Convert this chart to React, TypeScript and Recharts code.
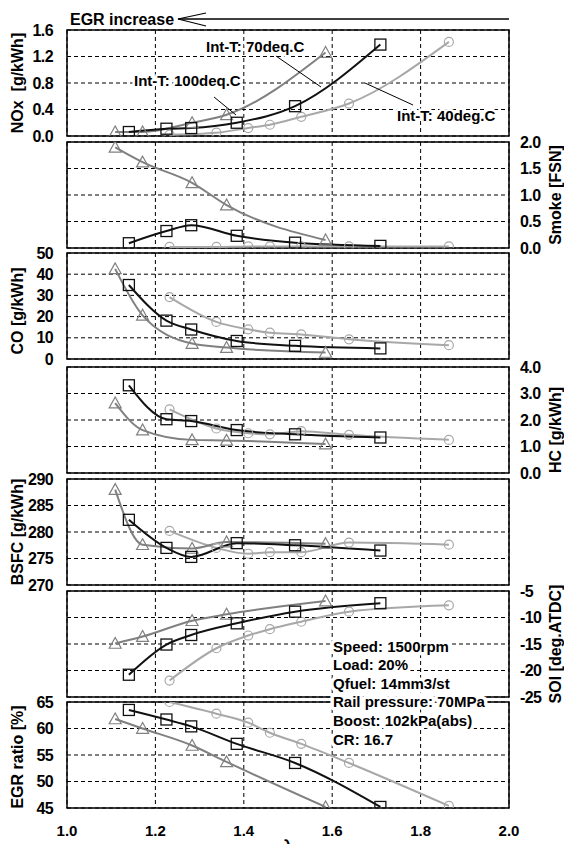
import React from 'react';
import { LineChart, Line, XAxis, YAxis, CartesianGrid, ReferenceArea } from 'recharts';

// lambda values for each intake temperature
const lambda100 = [1.109, 1.171, 1.283, 1.361, 1.585];
const lambda70 = [1.14, 1.225, 1.281, 1.384, 1.516, 1.709];
const lambda40 = [1.232, 1.338, 1.41, 1.459, 1.53, 1.638, 1.864];

const nox100 = [0.06, 0.06, 0.2, 0.32, 1.26];
const nox70 = [0.06, 0.11, 0.12, 0.2, 0.45, 1.38];
const nox40 = [0.02, 0.05, 0.12, 0.17, 0.29, 0.49, 1.42];

const smoke100 = [1.9, 1.62, 1.23, 0.81, 0.15];
const smoke70 = [0.09, 0.32, 0.43, 0.23, 0.1, 0.04];
const smoke40 = [0.02, 0.02, 0.03, 0.03, 0.03, 0.03, 0.03];

const co100 = [42.5, 20.6, 7.3, 5.4, 3.1];
const co70 = [34.9, 18.1, 13.9, 8.5, 6.2, 5.0];
const co40 = [29.2, 17.5, 14.0, 12.4, 11.6, 9.3, 6.5];

const hc100 = [2.64, 1.62, 1.25, 1.23, 1.09];
const hc70 = [3.31, 2.03, 1.96, 1.62, 1.46, 1.34];
const hc40 = [2.4, 1.68, 1.5, 1.46, 1.58, 1.44, 1.25];

const bsfc100 = [288, 277.6, 276.9, 278.1, 277.8];
const bsfc70 = [282.3, 277, 275.3, 277.9, 277.5, 276.5];
const bsfc40 = [280.2, 277, 275.9, 276.2, 276.2, 278, 277.6];

const soi100 = [-14.9, -13.6, -10.6, -9.4, -6.9];
const soi70 = [-20.8, -15.1, -13.3, -11.1, -8.9, -7.3];
const soi40 = [-21.9, -15.8, -13.4, -12.2, -10.8, -8.9, -7.7];

const egr100 = [61.8, 60, 56.8, 53.7, 45.2];
const egr70 = [63.5, 61.7, 60.4, 57.1, 53.5, 45.2];
const egr40 = [65, 62.8, 61.1, 59.2, 57.1, 53.5, 45.4];

const xTicks = [1.0, 1.2, 1.4, 1.6, 1.8, 2.0];

const seriesLabels = ['Int-T: 70deq.C', 'Int-T: 100deq.C', 'Int-T: 40deg.C'];
const conditions = ['Speed: 1500rpm', 'Load: 20%', 'Qfuel: 14mm3/st', 'Rail pressure: 70MPa', 'Boost: 102kPa(abs)', 'CR: 16.7'];

const C100 = '#808080';
const C70 = '#111111';
const C40 = '#a8a8a8';

const FONT = "'Liberation Sans', Arial, sans-serif";
const FONT_NARROW = "'Liberation Sans Narrow', 'Arial Narrow', 'Liberation Sans', sans-serif";

const PLOT_H = 106;
const PAD = 15;

const rows = (xs: number[], ys: number[]) => xs.map((x, i) => ({ x, y: ys[i] }));

const TriangleDot = (p: any) => {
  const { cx, cy, index } = p;
  if (cx == null || cy == null) return <g key={index} />;
  const s = 6;
  return (
    <polygon
      key={index}
      points={`${cx},${cy - s} ${cx - s},${cy + s * 0.8} ${cx + s},${cy + s * 0.8}`}
      fill="none"
      stroke={C100}
      strokeWidth={1.2}
    />
  );
};

const SquareDot = (p: any) => {
  const { cx, cy, index } = p;
  if (cx == null || cy == null) return <g key={index} />;
  return <rect key={index} x={cx - 5.5} y={cy - 5.5} width={11} height={11} fill="none" stroke={C70} strokeWidth={1.3} />;
};

const CircleDot = (p: any) => {
  const { cx, cy, index } = p;
  if (cx == null || cy == null) return <g key={index} />;
  return <circle key={index} cx={cx} cy={cy} r={4.5} fill="none" stroke={C40} strokeWidth={1.2} />;
};

interface PanelProps {
  top: number;
  domain: [number, number];
  ticks: number[];
  fmt: (v: number) => string;
  side: 'left' | 'right';
  v100: number[];
  v70: number[];
  v40: number[];
  showX?: boolean;
}

function Panel({ top, domain, ticks, fmt, side, v100, v70, v40, showX }: PanelProps) {
  const xH = showX ? 40 : 0;
  const h = PLOT_H + PAD * 2 + xH;
  const tickStyle = { fontFamily: FONT_NARROW, fontWeight: 'bold', fontSize: 16, fill: '#000', letterSpacing: -0.6 };
  return (
    <div style={{ position: 'absolute', left: 0, top: top - PAD }}>
      <LineChart
        width={564}
        height={h}
        margin={{ top: PAD, bottom: PAD, left: side === 'left' ? 0 : 67, right: side === 'right' ? 0 : 55 }}
      >
        <CartesianGrid stroke="#000" strokeDasharray="4 3" />
        <XAxis
          type="number"
          dataKey="x"
          domain={[1, 2]}
          ticks={xTicks}
          interval={0}
          hide={!showX}
          height={xH}
          axisLine={false}
          tickLine={false}
          tickSize={0}
          tickMargin={17}
          tickFormatter={(v: number) => v.toFixed(1)}
          tick={{ fontFamily: FONT, fontWeight: 'bold', fontSize: 15, fill: '#000' }}
        />
        <YAxis
          type="number"
          domain={domain}
          ticks={ticks}
          interval={0}
          orientation={side}
          width={side === 'left' ? 67 : 55}
          axisLine={false}
          tickLine={false}
          tickSize={0}
          tickMargin={side === 'left' ? 14 : 11}
          tickFormatter={fmt}
          tick={tickStyle}
          allowDataOverflow
        />
        <ReferenceArea x1={1} x2={2} y1={domain[0]} y2={domain[1]} fill="none" stroke="#000" strokeWidth={1.5} />
        <Line data={rows(lambda40, v40)} dataKey="y" type="monotone" stroke={C40} strokeWidth={2} dot={CircleDot} isAnimationActive={false} />
        <Line data={rows(lambda100, v100)} dataKey="y" type="monotone" stroke={C100} strokeWidth={2} dot={TriangleDot} isAnimationActive={false} />
        <Line data={rows(lambda70, v70)} dataKey="y" type="monotone" stroke={C70} strokeWidth={2} dot={SquareDot} isAnimationActive={false} />
      </LineChart>
    </div>
  );
}

const f1 = (v: number) => v.toFixed(1);
const f0 = (v: number) => `${v}`;

const tops = [30, 142, 253, 367, 479, 591, 702];

export default function App() {
  const halo = { paintOrder: 'stroke' as const, stroke: '#fff', strokeWidth: 5, strokeLinejoin: 'round' as const };
  const txt = { fontFamily: FONT, fontWeight: 'bold' as const, fontSize: 15, fill: '#000' };
  const mid = (i: number) => tops[i] + PLOT_H / 2;
  return (
    <div style={{ position: 'absolute', left: 0, top: 0, width: 564, height: 844, background: '#fff', overflow: 'hidden' }}>
      <Panel top={tops[0]} domain={[0, 1.6]} ticks={[0, 0.4, 0.8, 1.2, 1.6]} fmt={f1} side="left" v100={nox100} v70={nox70} v40={nox40} />
      <Panel top={tops[1]} domain={[0, 2]} ticks={[0, 0.5, 1, 1.5, 2]} fmt={f1} side="right" v100={smoke100} v70={smoke70} v40={smoke40} />
      <Panel top={tops[2]} domain={[0, 50]} ticks={[0, 10, 20, 30, 40, 50]} fmt={f0} side="left" v100={co100} v70={co70} v40={co40} />
      <Panel top={tops[3]} domain={[0, 4]} ticks={[0, 1, 2, 3, 4]} fmt={f1} side="right" v100={hc100} v70={hc70} v40={hc40} />
      <Panel top={tops[4]} domain={[270, 290]} ticks={[270, 275, 280, 285, 290]} fmt={f0} side="left" v100={bsfc100} v70={bsfc70} v40={bsfc40} />
      <Panel top={tops[5]} domain={[-25, -5]} ticks={[-25, -20, -15, -10, -5]} fmt={f0} side="right" v100={soi100} v70={soi70} v40={soi40} />
      <Panel top={tops[6]} domain={[45, 65]} ticks={[45, 50, 55, 60, 65]} fmt={f0} side="left" v100={egr100} v70={egr70} v40={egr40} showX />

      <svg width={564} height={844} style={{ position: 'absolute', left: 0, top: 0, pointerEvents: 'none' }}>
        {/* EGR arrow */}
        <text x={70} y={19} dominantBaseline="central" style={{ ...txt, fontSize: 16 }}>EGR increase</text>
        <line x1={178} y1={19} x2={509} y2={19} stroke="#000" strokeWidth={1.5} />
        <polyline points="206,13 178,19 206,26" fill="none" stroke="#000" strokeWidth={1.2} />

        {/* series labels */}
        <line x1={276} y1={56} x2={321} y2={87} stroke="#000" strokeWidth={1} />
        <line x1={214} y1={97} x2={236} y2={115} stroke="#000" strokeWidth={1} />
        <line x1={413} y1={105} x2={365} y2={83} stroke="#000" strokeWidth={1} />
        <text x={206} y={46} dominantBaseline="central" style={{ ...txt, ...halo }}>{seriesLabels[0]}</text>
        <text x={134} y={80} dominantBaseline="central" style={{ ...txt, ...halo }}>{seriesLabels[1]}</text>
        <text x={397} y={115} dominantBaseline="central" style={{ ...txt, ...halo }}>{seriesLabels[2]}</text>

        {/* test conditions */}
        {conditions.map((c, i) => (
          <text key={c} x={333} y={646 + i * 18.6} dominantBaseline="central" style={{ ...txt, ...halo, strokeWidth: 7 }}>{c}</text>
        ))}

        {/* axis titles */}
        {[
          { i: 0, x: 17, t: 'NOx  [g/kWh]', dy: 0 },
          { i: 2, x: 17, t: 'CO [g/kWh]', dy: 5 },
          { i: 4, x: 17, t: 'BSFC [g/kWh]', dy: 0 },
          { i: 6, x: 17, t: 'EGR ratio [%]', dy: 2 },
          { i: 1, x: 555, t: 'Smoke [FSN]', dy: 0 },
          { i: 3, x: 555, t: 'HC [g/kWh]', dy: 10 },
          { i: 5, x: 555, t: 'SOI [deg.ATDC]', dy: 0 },
        ].map(({ i, x, t, dy }) => (
          <text
            key={t}
            x={x}
            y={mid(i) + dy}
            textAnchor="middle"
            dominantBaseline="central"
            transform={`rotate(-90 ${x} ${mid(i) + dy})`}
            style={{ ...txt, fontSize: 16, whiteSpace: 'pre' }}
          >
            {t}
          </text>
        ))}

        <text x={288} y={852} textAnchor="middle" style={{ ...txt, fontSize: 17 }}>λ</text>
      </svg>
    </div>
  );
}
